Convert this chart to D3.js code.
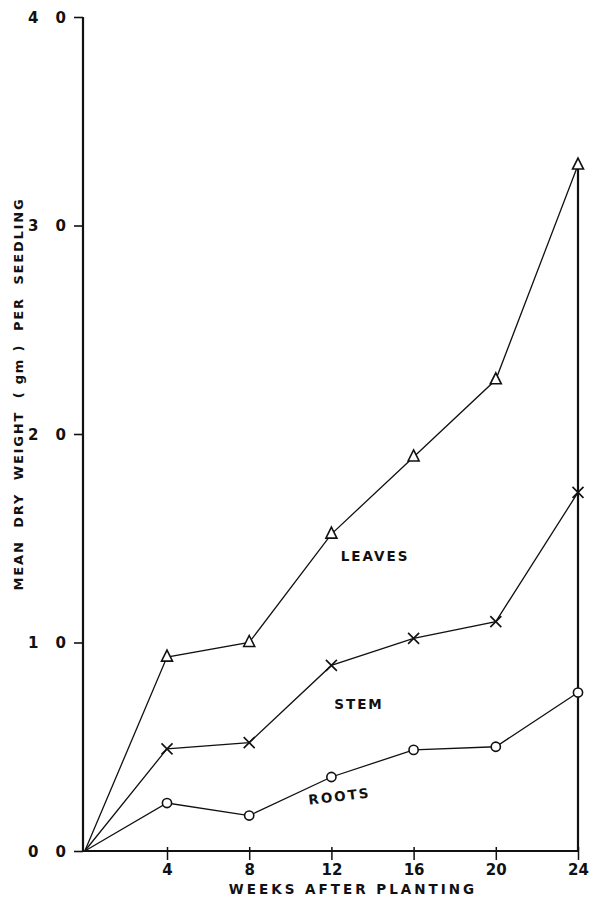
<!DOCTYPE html>
<html><head><meta charset="utf-8">
<script src="https://cdn.jsdelivr.net/npm/d3@7/dist/d3.min.js"></script>
<style>
body{margin:0;background:#fff;}
text{font-family:"DejaVu Sans",sans-serif;fill:#111;}
</style></head>
<body><svg id="c" width="592" height="902"></svg>
<script>
const weeks = [0, 4, 8, 12, 16, 20, 24];
const leaves = [0, 0.93, 1.00, 1.52, 1.89, 2.26, 3.29];
const stem   = [0, 0.49, 0.52, 0.89, 1.02, 1.10, 1.72];
const roots  = [0, 0.23, 0.17, 0.355, 0.485, 0.50, 0.76];
const xTicks = [4, 8, 12, 16, 20, 24];
const yTicks = [0, 1, 2, 3, 4];
const yTickLabels = ["0 0", "1 0", "2 0", "3 0", "4 0"];

const svg = d3.select("#c");
const x = d3.scaleLinear().domain([0, 24]).range([84.8, 578]);
const y = d3.scaleLinear().domain([0, 4]).range([851, 17]);

// axes
const yAxis = d3.axisLeft(y).tickValues(yTicks).tickSize(9).tickFormat((d,i)=>yTickLabels[i]);
const gy = svg.append("g").attr("transform","translate(83,0)").call(yAxis);
gy.select(".domain").attr("d", `M0,${y(4)}V${y(0)}`).attr("stroke","#111").attr("stroke-width",2.2);
gy.selectAll(".tick line").attr("stroke","#111").attr("stroke-width",1.6);
gy.selectAll(".tick text").attr("x",-11).attr("font-size",15).attr("font-weight","bold").style("letter-spacing","6px").attr("dy","0.35em");

const xAxis = d3.axisBottom(x).tickValues(xTicks).tickSize(9).tickFormat(d3.format("d"));
const gx = svg.append("g").attr("transform",`translate(0,${y(0)})`).call(xAxis);
gx.select(".domain").attr("d", `M83,0H${x(24)}`).attr("stroke","#111").attr("stroke-width",2);
gx.selectAll(".tick line").attr("y1",-4).attr("stroke","#111").attr("stroke-width",1.5);
gx.selectAll(".tick text").attr("y",13).attr("font-size",15).attr("font-weight","bold");

// right vertical line at week 24
svg.append("line").attr("x1",x(24)).attr("x2",x(24)).attr("y1",y(leaves[6])).attr("y2",y(0))
  .attr("stroke","#111").attr("stroke-width",2.2);

const line = d3.line().x((d,i)=>x(weeks[i])).y(d=>y(d));
[leaves, stem, roots].forEach(s=>{
  svg.append("path").attr("d", line(s)).attr("fill","none").attr("stroke","#111").attr("stroke-width",1.3);
});

// markers (skip origin)
const pts = s => s.map((v,i)=>({x:x(weeks[i]), y:y(v)})).slice(1);
svg.append("g").selectAll("path").data(pts(leaves)).join("path")
  .attr("d", d=>`M${d.x},${d.y-7}L${d.x+5.5},${d.y+4}L${d.x-5.5},${d.y+4}Z`)
  .attr("fill","#fff").attr("stroke","#111").attr("stroke-width",1.6);
svg.append("g").selectAll("path").data(pts(stem)).join("path")
  .attr("d", d=>`M${d.x-5.5},${d.y-5.5}L${d.x+5.5},${d.y+5.5}M${d.x+5.5},${d.y-5.5}L${d.x-5.5},${d.y+5.5}`)
  .attr("fill","none").attr("stroke","#111").attr("stroke-width",1.6);
svg.append("g").selectAll("circle").data(pts(roots)).join("circle")
  .attr("cx",d=>d.x).attr("cy",d=>d.y).attr("r",4.6)
  .attr("fill","#fff").attr("stroke","#111").attr("stroke-width",1.6);

// series labels
const lab = (t,cx,cy,rot)=>svg.append("text").text(t).attr("x",cx).attr("y",cy)
  .attr("text-anchor","middle").attr("font-size",13.5).attr("font-weight","bold")
  .style("letter-spacing","2px").attr("transform",`rotate(${rot},${cx},${cy})`);
lab("LEAVES", 375, 561, 0);
lab("STEM", 359, 709, 0);
lab("ROOTS", 340, 801, -7);

// axis titles
svg.append("text").text("WEEKS AFTER PLANTING").attr("x",353).attr("y",894)
  .attr("text-anchor","middle").attr("font-size",13.5).attr("font-weight","bold").style("letter-spacing","3px");
svg.append("text").text("MEAN  DRY  WEIGHT  ( gm )  PER  SEEDLING")
  .attr("transform","translate(23,394) rotate(-90)")
  .attr("text-anchor","middle").attr("font-size",13).attr("font-weight","bold").style("letter-spacing","1.8px")
  .style("white-space","pre");
</script></body></html>
